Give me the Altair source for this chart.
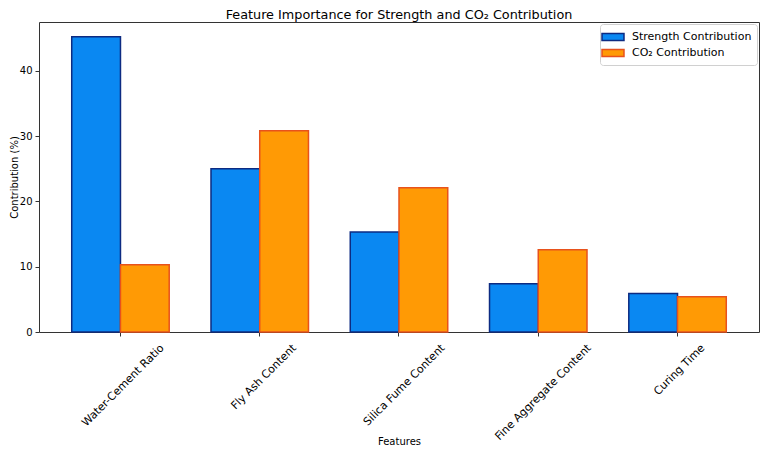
# %% Imports

import altair as alt
import pandas as pd

# %% Data

features = [
    "Water-Cement Ratio",
    "Fly Ash Content",
    "Silica Fume Content",
    "Fine Aggregate Content",
    "Curing Time",
]
series = ["Strength Contribution", "CO₂ Contribution"]
strength = [45.2, 25.0, 15.3, 7.4, 5.9]
co2 = [10.3, 30.8, 22.1, 12.6, 5.4]
y_ticks = [0, 10, 20, 30, 40]

fills = ["#0A88F2", "#FF9A05"]
edges = ["#0D2B82", "#E8521C"]

rows = [{"feature": f, "series": series[0], "value": v} for f, v in zip(features, strength)]
rows += [{"feature": f, "series": series[1], "value": v} for f, v in zip(features, co2)]
df = pd.DataFrame(rows)

FONT = "DejaVu Sans"

# %% Chart

c = alt.Chart(df).mark_bar(strokeWidth=1.5).encode(
    x=alt.X(
        "feature:N",
        sort=features,
        scale=alt.Scale(paddingInner=0.3, paddingOuter=0.235),
        axis=alt.Axis(
            title="Features",
            labelAngle=-45,
            labelAlign="right",
            labelBaseline="middle",
            labelFontSize=11,
            labelOffset={"expr": "length(datum.label) * 2.33"},
            labelPadding=10,
            labelOverlap=False,
            labelFlush=False,
            tickSize=4,
            titleY=112,
            titleBaseline="alphabetic",
        ),
    ),
    xOffset=alt.XOffset(
        "series:N",
        sort=series,
        scale=alt.Scale(domain=series, paddingInner=0, paddingOuter=0),
    ),
    y=alt.Y(
        "value:Q",
        scale=alt.Scale(domain=[0, 47.46], nice=False, zero=True),
        axis=alt.Axis(
            title="Contribution (%)",
            values=y_ticks,
            tickSize=4,
            labelPadding=3,
            titlePadding=0,
        ),
    ),
    color=alt.Color(
        "series:N",
        sort=series,
        scale=alt.Scale(domain=series, range=fills),
        legend=alt.Legend(title=None),
    ),
    stroke=alt.Stroke(
        "series:N",
        sort=series,
        scale=alt.Scale(domain=series, range=edges),
        legend=alt.Legend(title=None),
    ),
)

chart = (
    c.properties(
        width=720,
        height=310,
        autosize=alt.AutoSizeParams(type="none"),
        padding={"left": 31, "top": 14, "right": 1, "bottom": 114},
        title=alt.TitleParams(
            "Feature Importance for Strength and CO₂ Contribution",
            font=FONT,
            fontSize=12.8,
            fontWeight="normal",
            color="black",
            offset=0,
        ),
    )
    .configure_view(stroke="#333", strokeWidth=1)
    .configure_axis(
        labelFont=FONT,
        titleFont=FONT,
        labelFontSize=10,
        titleFontSize=10,
        titleFontWeight="normal",
        labelColor="black",
        titleColor="black",
        tickColor="#333",
        domain=False,
        grid=False,
    )
    .configure_legend(
        orient="top-right",
        offset=2,
        labelFont=FONT,
        labelFontSize=11,
        labelColor="black",
        symbolType="M-1.57,-0.5L1.57,-0.5L1.57,0.5L-1.57,0.5Z",
        symbolSize=196,
        symbolStrokeWidth=1.5,
        symbolOpacity=1,
        labelOffset=11,
        rowPadding=1,
        padding=5,
        strokeColor="#d0d0d0",
        fillColor="white",
        cornerRadius=3,
    )
)

chart.save("out.html", embed_options={"renderer": "svg", "actions": False})
